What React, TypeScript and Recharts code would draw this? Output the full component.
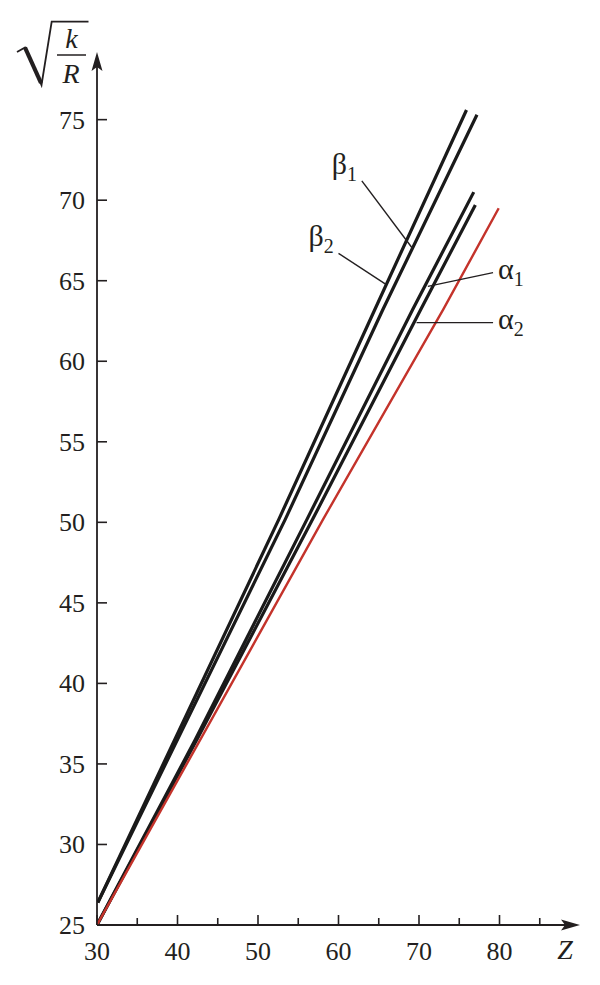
import React from "react";
import { LineChart, Line, XAxis, YAxis, ReferenceLine } from "recharts";

// [Z, sqrt(k/R)]
const beta2Pts = [
  [30.1, 26.4],
  [52.6, 50.2],
  [64.5, 63.2],
  [75.9, 75.6],
];
const beta1Pts = [
  [30.1, 26.4],
  [53.4, 50.2],
  [65.5, 63.2],
  [77.2, 75.3],
];
const alpha1Pts = [
  [30.0, 25.0],
  [42.2, 36.5],
  [56.1, 50.2],
  [69.2, 63.2],
  [76.8, 70.5],
];
const alpha2Pts = [
  [30.0, 25.0],
  [42.4, 36.5],
  [56.8, 50.2],
  [70.2, 63.2],
  [77.0, 69.7],
];
const redPts = [
  [30.0, 25.0],
  [58.1, 50.2],
  [73.0, 63.2],
  [79.9, 69.5],
];

const xTicks = [30, 35, 40, 45, 50, 55, 60, 65, 70, 75, 80, 85];
const xLabels = [30, 40, 50, 60, 70, 80];
const yTicks = [25, 30, 35, 40, 45, 50, 55, 60, 65, 70, 75];

// leader lines: label, subscript, start (at text) and end (on the curve)
const leaderNames = ["β", "β", "α", "α"];
const leaderSubs = ["1", "2", "1", "2"];
const leaderFrom = [
  [62.9, 71.2],
  [60.0, 66.7],
  [79.2, 65.5],
  [79.2, 62.4],
];
const leaderTo = [
  [69.2, 67.0],
  [65.8, 64.8],
  [71.1, 64.65],
  [69.7, 62.4],
];

const toData = (arr: number[][]) => arr.map(([z, y]) => ({ z, y }));

const FONT = "Liberation Serif, Times New Roman, Times, serif";
const INK = "#231f20";

const XTick = (props: any) => {
  const { x, y, payload } = props;
  const major = xLabels.includes(payload.value);
  return (
    <g>
      <line x1={x} x2={x} y1={y} y2={y - (major ? 10 : 7)} stroke={INK} strokeWidth={1.6} />
      {major && (
        <text x={x} y={y + 35} textAnchor="middle" fontSize={26} fontFamily={FONT} fill={INK}>
          {payload.value}
        </text>
      )}
    </g>
  );
};

const YTick = (props: any) => {
  const { x, y, payload } = props;
  return (
    <g>
      <line x1={x} x2={x + 10} y1={y} y2={y} stroke={INK} strokeWidth={1.6} />
      <text x={x - 12} y={y + 9} textAnchor="end" fontSize={26} fontFamily={FONT} fill={INK}>
        {payload.value}
      </text>
    </g>
  );
};

const XArrow = (p: any) => {
  const { x1, y1, x2, y2 } = p;
  return (
    <g>
      <line x1={x1} y1={y1} x2={x2 - 10} y2={y2} stroke={INK} strokeWidth={1.8} />
      <path
        d={`M${x2},${y2} L${x2 - 19},${y2 - 5.5} L${x2 - 15},${y2} L${x2 - 19},${y2 + 5.5} Z`}
        fill={INK}
      />
      <text x={x2 - 15} y={y2 + 34} textAnchor="middle" fontSize={28} fontStyle="italic" fontFamily={FONT} fill={INK}>
        Z
      </text>
    </g>
  );
};

const YArrow = (p: any) => {
  const { x1, y1, x2, y2 } = p;
  // y2 is the arrow tip (top)
  const tx = x2;
  const ty = y2;
  return (
    <g>
      <line x1={x1} y1={y1} x2={x2} y2={y2 + 10} stroke={INK} strokeWidth={1.8} />
      <path
        d={`M${tx},${ty} L${tx - 5.5},${ty + 19} L${tx},${ty + 15} L${tx + 5.5},${ty + 19} Z`}
        fill={INK}
      />
      {/* radical sign */}
      <polyline
        points={`${tx - 80},${ty} ${tx - 72},${ty - 4.5} ${tx - 55.5},${ty + 33} ${tx - 45.3},${ty - 30.3} ${tx - 8.5},${ty - 30.3}`}
        fill="none"
        stroke={INK}
        strokeWidth={1.8}
      />
      <line x1={tx - 72} y1={ty - 4.5} x2={tx - 56} y2={ty + 31} stroke={INK} strokeWidth={4.2} />
      <text x={tx - 25.5} y={ty - 4} textAnchor="middle" fontSize={28} fontStyle="italic" fontFamily={FONT} fill={INK}>
        k
      </text>
      <line x1={tx - 40} x2={tx - 11} y1={ty + 3} y2={ty + 3} stroke={INK} strokeWidth={1.5} />
      <text x={tx - 26} y={ty + 31} textAnchor="middle" fontSize={28} fontStyle="italic" fontFamily={FONT} fill={INK}>
        R
      </text>
    </g>
  );
};

const makeLeader = (i: number) => (p: any) => {
  const { x1, y1, x2, y2 } = p;
  const isBeta = leaderNames[i] === "β";
  const tx = isBeta ? x1 - 30 : x1 + 5;
  const ty = isBeta ? y1 - 7 : y1 + 6;
  return (
    <g>
      <line x1={x1} y1={y1} x2={x2} y2={y2} stroke={INK} strokeWidth={1.4} />
      <text x={tx} y={ty} fontSize={30} fontFamily={FONT} fill={INK}>
        {leaderNames[i]}
        <tspan fontSize={20} dy={7}>
          {leaderSubs[i]}
        </tspan>
      </text>
    </g>
  );
};

export default function App() {
  return (
    <div style={{ position: "absolute", left: 0, top: 0, background: "#fff" }}>
      <LineChart width={600} height={985} margin={{ top: 52, right: 20, bottom: 0, left: 0 }}>
        <XAxis
          dataKey="z"
          type="number"
          domain={[30, 90]}
          allowDataOverflow
          ticks={xTicks}
          tick={<XTick />}
          tickSize={0}
          tickMargin={0}
          tickLine={false}
          axisLine={false}
          height={60}
          interval={0}
        />
        <YAxis
          dataKey="y"
          type="number"
          domain={[25, 79.2]}
          allowDataOverflow
          ticks={yTicks}
          tick={<YTick />}
          tickSize={0}
          tickMargin={0}
          tickLine={false}
          axisLine={false}
          width={97}
          interval={0}
        />
        <ReferenceLine
          segment={[{ x: 30, y: 25 }, { x: 90, y: 25 }]}
          ifOverflow="visible"
          shape={XArrow}
        />
        <ReferenceLine
          segment={[{ x: 30, y: 25 }, { x: 30, y: 79.2 }]}
          ifOverflow="visible"
          shape={YArrow}
        />
        <Line data={toData(beta2Pts)} dataKey="y" type="linear" stroke="#1a1a1a" strokeWidth={3.2} dot={false} isAnimationActive={false} />
        <Line data={toData(beta1Pts)} dataKey="y" type="linear" stroke="#1a1a1a" strokeWidth={3.2} dot={false} isAnimationActive={false} />
        <Line data={toData(alpha1Pts)} dataKey="y" type="linear" stroke="#1a1a1a" strokeWidth={3.2} dot={false} isAnimationActive={false} />
        <Line data={toData(alpha2Pts)} dataKey="y" type="linear" stroke="#1a1a1a" strokeWidth={3.2} dot={false} isAnimationActive={false} />
        <Line data={toData(redPts)} dataKey="y" type="linear" stroke="#c4332b" strokeWidth={2.4} dot={false} isAnimationActive={false} />
        {leaderFrom.map((f, i) => (
          <ReferenceLine
            key={i}
            segment={[{ x: f[0], y: f[1] }, { x: leaderTo[i][0], y: leaderTo[i][1] }]}
            ifOverflow="visible"
            shape={makeLeader(i)}
          />
        ))}
      </LineChart>
    </div>
  );
}
